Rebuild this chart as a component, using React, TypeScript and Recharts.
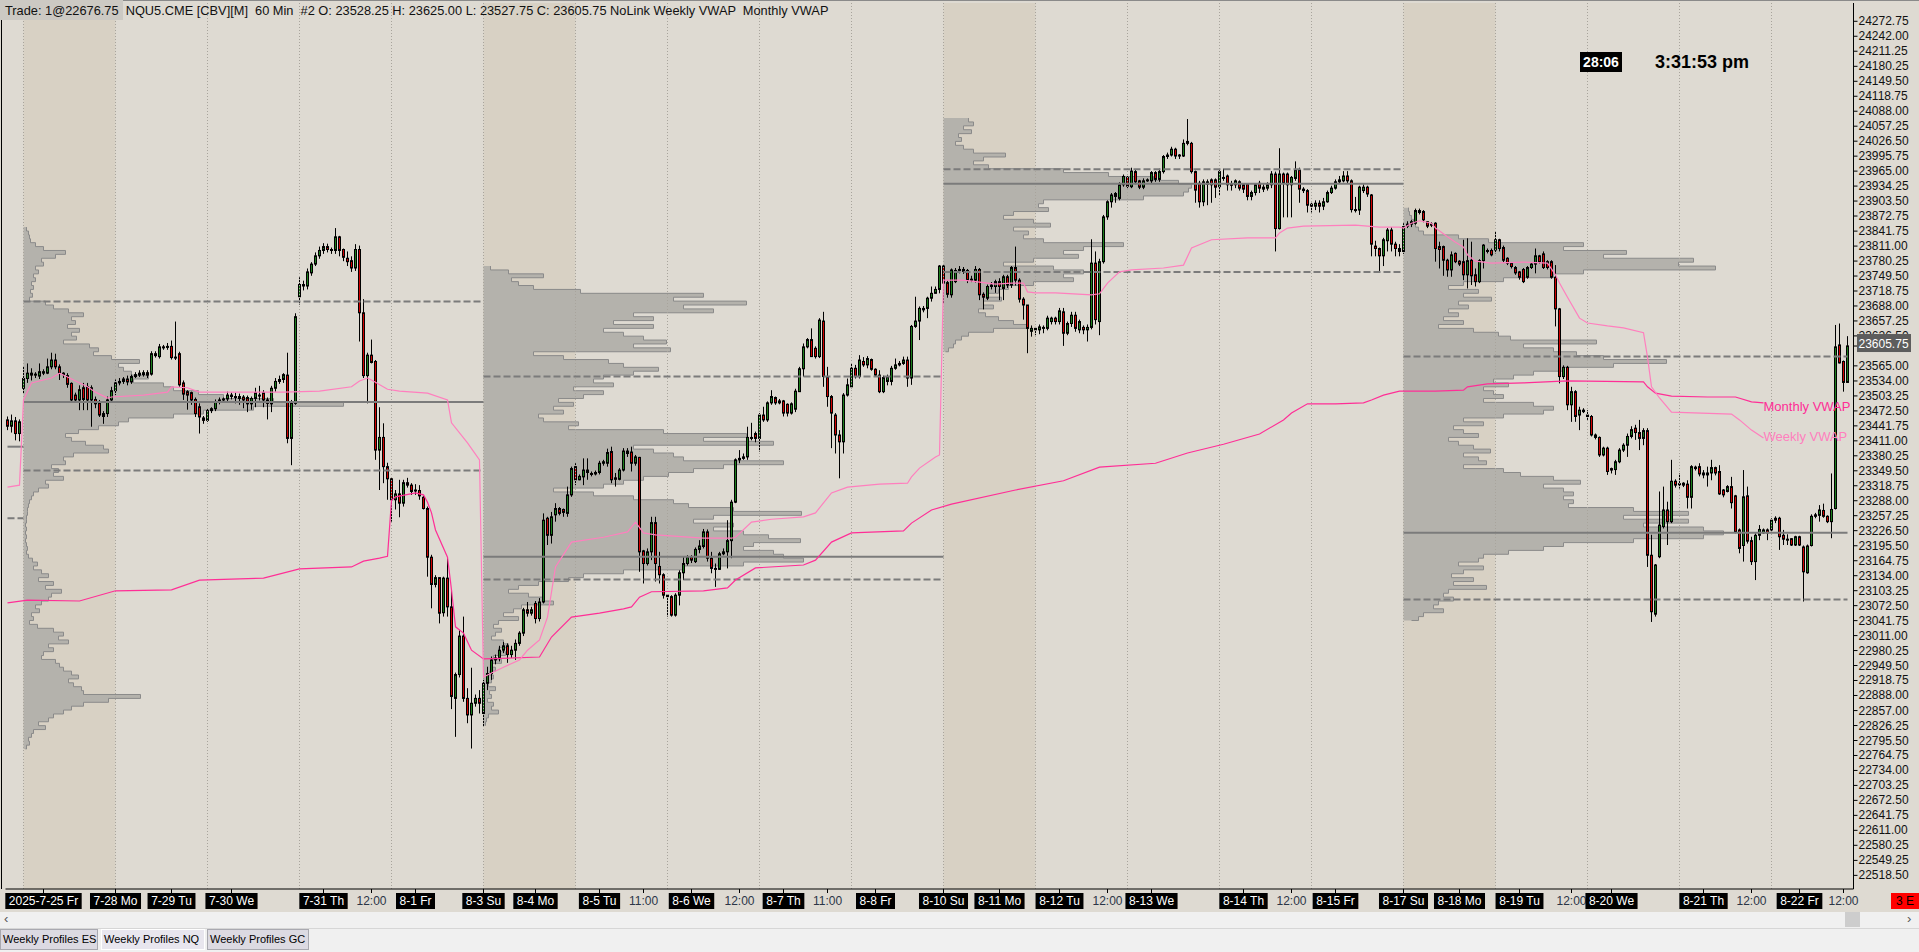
import React from "react";
import {
  ComposedChart,
  Bar,
  Line,
  Area,
  XAxis,
  YAxis,
  ReferenceLine,
  ReferenceArea,
} from "recharts";

// NQU5 60 min bars, one row per bar: [open, high, low, close]
const candles: number[][] = [
  [23454, 23461, 23433, 23441], [23441, 23465, 23428, 23452], [23452, 23460, 23412, 23426], [23426, 23455, 23410, 23450],
  // week of 7-28
  [23519, 23563, 23509, 23539], [23539, 23570, 23530, 23550], [23550, 23560, 23535, 23546], [23546, 23552, 23540, 23548],
  [23544, 23570, 23538, 23553], [23550, 23558, 23546, 23553], [23550, 23580, 23548, 23563], [23563, 23592, 23558, 23577],
  [23577, 23590, 23558, 23563], [23563, 23568, 23536, 23550], [23550, 23552, 23540, 23547], [23545, 23550, 23520, 23527],
  [23529, 23531, 23490, 23495], [23505, 23510, 23492, 23495], [23495, 23525, 23474, 23516], [23520, 23530, 23474, 23496],
  [23522, 23530, 23474, 23495], [23495, 23525, 23440, 23520], [23496, 23502, 23478, 23487], [23488, 23495, 23460, 23464],
  [23461, 23472, 23446, 23467], [23467, 23502, 23460, 23495], [23495, 23522, 23490, 23514], [23514, 23537, 23505, 23530],
  [23530, 23540, 23525, 23533], [23533, 23542, 23528, 23538], [23538, 23545, 23525, 23532], [23532, 23547, 23528, 23543],
  [23543, 23552, 23540, 23547], [23546, 23556, 23542, 23550], [23547, 23556, 23543, 23551], [23551, 23556, 23540, 23546],
  [23548, 23595, 23545, 23590], [23590, 23595, 23582, 23586], [23584, 23610, 23580, 23604], [23604, 23608, 23598, 23603],
  [23603, 23612, 23598, 23605], [23605, 23617, 23578, 23582], [23583, 23656, 23577, 23582], [23590, 23594, 23522, 23526],
  [23530, 23535, 23495, 23507], [23512, 23515, 23475, 23505], [23510, 23512, 23485, 23495], [23496, 23500, 23460, 23467],
  [23481, 23488, 23426, 23460], [23458, 23462, 23446, 23453], [23453, 23478, 23450, 23473], [23473, 23480, 23468, 23477],
  [23477, 23496, 23472, 23491], [23491, 23500, 23486, 23495], [23495, 23500, 23490, 23497], [23497, 23512, 23492, 23505],
  [23505, 23510, 23496, 23502], [23502, 23510, 23488, 23500], [23502, 23508, 23485, 23498], [23501, 23505, 23478, 23495],
  [23500, 23504, 23470, 23487], [23487, 23502, 23475, 23498], [23498, 23520, 23480, 23510], [23505, 23524, 23494, 23504],
  [23510, 23515, 23480, 23495], [23495, 23500, 23455, 23488], [23487, 23524, 23470, 23519], [23519, 23540, 23512, 23533],
  [23533, 23545, 23528, 23537], [23537, 23550, 23530, 23547], [23546, 23592, 23406, 23416], [23416, 23495, 23361, 23488],
  [23488, 23673, 23485, 23666], [23707, 23747, 23691, 23732], [23732, 23740, 23720, 23729], [23729, 23765, 23722, 23758],
  [23756, 23778, 23750, 23774], [23774, 23798, 23770, 23791], [23791, 23810, 23785, 23802], [23802, 23817, 23795, 23810],
  [23810, 23816, 23798, 23804], [23804, 23808, 23795, 23802], [23802, 23848, 23795, 23830], [23830, 23832, 23790, 23802],
  [23804, 23806, 23780, 23788], [23786, 23800, 23770, 23779], [23781, 23790, 23758, 23766], [23766, 23815, 23760, 23804],
  [23804, 23812, 23615, 23674], [23674, 23702, 23540, 23545], [23545, 23592, 23488, 23587], [23587, 23619, 23570, 23572],
  [23574, 23577, 23372, 23392], [23392, 23480, 23310, 23418], [23418, 23447, 23324, 23358], [23358, 23366, 23290, 23333],
  [23333, 23335, 23245, 23290], [23290, 23310, 23270, 23302], [23302, 23331, 23254, 23283], [23283, 23331, 23276, 23325],
  [23325, 23335, 23315, 23320], [23320, 23324, 23300, 23307], [23310, 23322, 23300, 23309], [23309, 23320, 23290, 23298],
  [23295, 23298, 23270, 23272], [23272, 23276, 23132, 23172], [23172, 23177, 23067, 23116], [23116, 23135, 23110, 23130],
  [23130, 23130, 23036, 23057], [23058, 23132, 23050, 23129], [23129, 23170, 23050, 23070], [23070, 23105, 22860, 22886],
  [22882, 22935, 22803, 22931], [22931, 23022, 22925, 23010], [23010, 23050, 22875, 22882], [22882, 22903, 22831, 22848],
  [22848, 22945, 22779, 22872], [22872, 22890, 22865, 22882], [22882, 22899, 22851, 22872],
  // week of 8-4
  [22851, 22920, 22824, 22913], [22913, 22947, 22899, 22933], [22933, 22968, 22920, 22961], [22961, 22972, 22952, 22965],
  [22965, 22990, 22958, 22981], [22981, 22998, 22975, 22990], [22990, 22995, 22955, 22972], [22972, 22990, 22965, 22981],
  [22981, 23003, 22961, 22995], [22995, 23020, 22990, 23016], [23016, 23068, 23010, 23064], [23064, 23080, 23050, 23057],
  [23057, 23070, 23052, 23064], [23077, 23082, 23036, 23046], [23046, 23088, 23040, 23080], [23080, 23262, 23077, 23248],
  [23252, 23255, 23197, 23217], [23217, 23265, 23200, 23255], [23259, 23283, 23245, 23272], [23272, 23275, 23258, 23262],
  [23270, 23272, 23255, 23264], [23262, 23317, 23255, 23300], [23300, 23358, 23296, 23354], [23358, 23365, 23320, 23331],
  [23331, 23342, 23330, 23338], [23337, 23375, 23320, 23351], [23351, 23375, 23331, 23346], [23344, 23348, 23338, 23343],
  [23343, 23350, 23340, 23346], [23346, 23370, 23342, 23365], [23365, 23372, 23360, 23368], [23365, 23395, 23358, 23387],
  [23389, 23399, 23324, 23331], [23335, 23345, 23317, 23332], [23332, 23355, 23330, 23351], [23351, 23396, 23348, 23390],
  [23390, 23396, 23378, 23385], [23388, 23399, 23348, 23365], [23365, 23382, 23360, 23378], [23377, 23378, 23142, 23183],
  [23185, 23187, 23118, 23159], [23159, 23190, 23155, 23183], [23183, 23255, 23166, 23243], [23243, 23255, 23122, 23159],
  [23153, 23183, 23118, 23136], [23136, 23139, 23087, 23094], [23094, 23096, 23050, 23091], [23091, 23094, 23050, 23053],
  [23053, 23098, 23050, 23094], [23094, 23145, 23073, 23140], [23140, 23173, 23125, 23159], [23159, 23176, 23155, 23172],
  [23172, 23176, 23160, 23166], [23163, 23192, 23160, 23188], [23188, 23207, 23180, 23195], [23194, 23230, 23190, 23224],
  [23224, 23229, 23163, 23170], [23170, 23183, 23139, 23149], [23149, 23159, 23111, 23147], [23147, 23183, 23146, 23179],
  [23179, 23190, 23176, 23183], [23183, 23248, 23149, 23206], [23206, 23290, 23170, 23285], [23285, 23375, 23283, 23372],
  [23372, 23392, 23365, 23375], [23375, 23385, 23372, 23378], [23378, 23440, 23372, 23418], [23418, 23448, 23412, 23416],
  [23426, 23430, 23408, 23416], [23416, 23468, 23389, 23464], [23464, 23481, 23450, 23454], [23454, 23492, 23450, 23489],
  [23489, 23515, 23485, 23502], [23500, 23502, 23485, 23489], [23489, 23497, 23486, 23493], [23493, 23495, 23461, 23468],
  [23486, 23488, 23461, 23468], [23468, 23490, 23465, 23487], [23476, 23518, 23470, 23513], [23512, 23563, 23512, 23559],
  [23559, 23611, 23543, 23604], [23604, 23622, 23601, 23619], [23619, 23642, 23584, 23584], [23601, 23605, 23580, 23584],
  [23584, 23663, 23581, 23659], [23657, 23676, 23522, 23543], [23543, 23563, 23481, 23502], [23502, 23505, 23396, 23468],
  [23464, 23468, 23385, 23423], [23423, 23433, 23334, 23409], [23409, 23509, 23385, 23505], [23505, 23539, 23502, 23526],
  [23522, 23570, 23519, 23560], [23560, 23567, 23539, 23543], [23543, 23587, 23539, 23577], [23574, 23583, 23563, 23567],
  [23567, 23585, 23560, 23580], [23578, 23580, 23555, 23558], [23558, 23560, 23543, 23546], [23546, 23556, 23509, 23512],
  [23512, 23545, 23509, 23541], [23533, 23547, 23525, 23543], [23533, 23565, 23525, 23560], [23560, 23580, 23557, 23567],
  [23567, 23575, 23564, 23570], [23570, 23584, 23567, 23577], [23577, 23584, 23522, 23540], [23540, 23649, 23526, 23646],
  [23646, 23707, 23643, 23657], [23657, 23687, 23618, 23683], [23680, 23688, 23675, 23683], [23683, 23707, 23663, 23704],
  [23704, 23728, 23697, 23714], [23714, 23728, 23714, 23722], [23722, 23772, 23714, 23770],
  // week of 8-11
  [23770, 23772, 23693, 23735], [23736, 23740, 23705, 23712], [23711, 23765, 23705, 23762], [23738, 23766, 23735, 23761],
  [23761, 23770, 23755, 23763], [23763, 23768, 23754, 23759], [23761, 23764, 23735, 23741], [23743, 23750, 23737, 23741],
  [23741, 23770, 23736, 23763], [23763, 23766, 23700, 23711], [23712, 23716, 23681, 23706], [23704, 23732, 23700, 23728],
  [23728, 23737, 23722, 23731], [23728, 23742, 23715, 23738], [23738, 23745, 23700, 23728], [23724, 23752, 23700, 23748],
  [23748, 23752, 23725, 23731], [23731, 23770, 23725, 23767], [23767, 23810, 23730, 23741], [23741, 23745, 23695, 23702],
  [23702, 23706, 23660, 23690], [23690, 23690, 23591, 23642], [23636, 23648, 23625, 23642], [23642, 23645, 23628, 23639],
  [23639, 23650, 23630, 23645], [23642, 23648, 23632, 23644], [23642, 23668, 23638, 23663], [23656, 23666, 23650, 23663],
  [23663, 23666, 23650, 23656], [23656, 23684, 23650, 23678], [23676, 23684, 23606, 23632], [23632, 23656, 23628, 23652],
  [23652, 23676, 23645, 23669], [23669, 23676, 23635, 23642], [23639, 23660, 23632, 23656], [23644, 23648, 23630, 23639],
  [23639, 23650, 23615, 23644], [23644, 23825, 23640, 23776], [23776, 23800, 23650, 23660], [23656, 23785, 23628, 23779],
  [23779, 23875, 23775, 23871], [23871, 23905, 23865, 23902], [23902, 23920, 23890, 23916], [23919, 23922, 23900, 23913],
  [23909, 23942, 23905, 23937], [23937, 23958, 23933, 23954], [23952, 23955, 23930, 23934], [23933, 23972, 23930, 23965],
  [23964, 23968, 23938, 23943], [23945, 23947, 23928, 23932], [23932, 23950, 23928, 23945], [23945, 23950, 23943, 23947],
  [23945, 23965, 23940, 23962], [23962, 23965, 23943, 23948], [23948, 23970, 23943, 23964], [23964, 23998, 23960, 23995],
  [23995, 24003, 23990, 23998], [23998, 24015, 23995, 24010], [24010, 24013, 23990, 23996], [23998, 24000, 23990, 23996],
  [23996, 24030, 23994, 24022], [24026, 24072, 24018, 24022], [24022, 24025, 23960, 23964], [23964, 23966, 23900, 23926],
  [23940, 23945, 23890, 23902], [23902, 23948, 23893, 23943], [23938, 23948, 23895, 23943], [23947, 23950, 23900, 23937],
  [23947, 23950, 23910, 23932], [23933, 23968, 23915, 23964], [23950, 23970, 23945, 23952], [23955, 23958, 23925, 23937],
  [23938, 23945, 23925, 23937], [23937, 23948, 23930, 23945], [23943, 23946, 23925, 23930], [23937, 23940, 23920, 23928],
  [23938, 23940, 23905, 23913], [23913, 23925, 23905, 23921], [23921, 23940, 23915, 23937], [23940, 23945, 23920, 23930],
  [23928, 23938, 23922, 23932], [23930, 23942, 23925, 23937], [23937, 23965, 23930, 23959], [23959, 23964, 23800, 23847],
  [23847, 24012, 23845, 23959], [23959, 23962, 23870, 23940], [23959, 23962, 23870, 23937], [23937, 23955, 23870, 23952],
  [23950, 23985, 23945, 23967], [23967, 23972, 23900, 23928], [23928, 23932, 23920, 23925], [23925, 23928, 23880, 23895],
  [23897, 23900, 23880, 23893], [23893, 23905, 23885, 23899], [23899, 23905, 23880, 23893], [23893, 23910, 23885, 23902],
  [23902, 23925, 23900, 23921], [23921, 23935, 23918, 23930], [23930, 23948, 23927, 23943], [23943, 23955, 23940, 23947],
  [23945, 23965, 23942, 23955], [23955, 23965, 23940, 23945], [23945, 23948, 23880, 23886], [23886, 23912, 23880, 23885],
  [23885, 23935, 23875, 23932], [23925, 23938, 23920, 23932], [23932, 23935, 23912, 23918], [23916, 23918, 23790, 23815],
  [23811, 23822, 23790, 23806], [23806, 23808, 23760, 23791], [23791, 23828, 23770, 23824], [23822, 23848, 23800, 23844],
  [23844, 23850, 23800, 23815], [23815, 23820, 23790, 23806], [23806, 23815, 23790, 23800],
  // week of 8-18
  [23800, 23858, 23795, 23851], [23852, 23862, 23848, 23856], [23856, 23865, 23850, 23861], [23858, 23888, 23855, 23884],
  [23880, 23888, 23876, 23884], [23882, 23885, 23860, 23865], [23861, 23862, 23848, 23852], [23856, 23860, 23850, 23854],
  [23858, 23860, 23779, 23806], [23810, 23820, 23765, 23804], [23810, 23812, 23750, 23782], [23782, 23785, 23748, 23762],
  [23762, 23800, 23748, 23793], [23796, 23798, 23776, 23779], [23780, 23782, 23770, 23774], [23779, 23824, 23741, 23752],
  [23752, 23827, 23724, 23781], [23782, 23820, 23731, 23750], [23752, 23765, 23728, 23738], [23738, 23784, 23735, 23781],
  [23781, 23815, 23765, 23813], [23800, 23806, 23796, 23802], [23802, 23806, 23790, 23793], [23803, 23841, 23796, 23824],
  [23824, 23826, 23800, 23806], [23808, 23812, 23778, 23782], [23786, 23788, 23772, 23776], [23776, 23778, 23765, 23769],
  [23767, 23770, 23752, 23756], [23758, 23760, 23742, 23747], [23763, 23766, 23735, 23738], [23747, 23770, 23744, 23767],
  [23767, 23776, 23764, 23774], [23774, 23806, 23755, 23791], [23791, 23793, 23775, 23779], [23795, 23800, 23764, 23767],
  [23779, 23782, 23763, 23767], [23779, 23782, 23744, 23747], [23747, 23772, 23646, 23682], [23682, 23684, 23529, 23543],
  [23543, 23566, 23538, 23562], [23562, 23565, 23474, 23485], [23485, 23522, 23450, 23512], [23512, 23515, 23450, 23461],
  [23464, 23481, 23433, 23474], [23471, 23478, 23468, 23474], [23464, 23474, 23454, 23461], [23461, 23464, 23420, 23423],
  [23423, 23426, 23414, 23418], [23418, 23420, 23378, 23382], [23382, 23399, 23379, 23396], [23396, 23399, 23341, 23348],
  [23354, 23356, 23344, 23351], [23352, 23372, 23341, 23368], [23368, 23396, 23365, 23392], [23392, 23406, 23388, 23402],
  [23402, 23426, 23378, 23420], [23420, 23441, 23416, 23434], [23437, 23444, 23413, 23428], [23428, 23454, 23392, 23416],
  [23416, 23437, 23402, 23432], [23432, 23437, 23152, 23176], [23176, 23218, 23039, 23060], [23055, 23158, 23050, 23156],
  [23173, 23307, 23170, 23238], [23235, 23317, 23231, 23269], [23269, 23286, 23197, 23245], [23245, 23372, 23242, 23328],
  [23328, 23332, 23315, 23320], [23323, 23344, 23313, 23321], [23324, 23326, 23316, 23320], [23322, 23330, 23272, 23295],
  [23295, 23361, 23272, 23358], [23354, 23360, 23350, 23357], [23358, 23365, 23338, 23343], [23345, 23351, 23334, 23341],
  [23341, 23358, 23317, 23345], [23345, 23372, 23330, 23356], [23356, 23358, 23340, 23345], [23348, 23361, 23300, 23302],
  [23310, 23312, 23295, 23300], [23307, 23320, 23305, 23317], [23317, 23337, 23272, 23284], [23298, 23300, 23221, 23224],
  [23228, 23231, 23180, 23190], [23196, 23351, 23163, 23296], [23298, 23317, 23200, 23205], [23206, 23214, 23156, 23163],
  [23163, 23221, 23125, 23217], [23217, 23238, 23207, 23229], [23222, 23231, 23220, 23228], [23228, 23231, 23207, 23222],
  [23228, 23252, 23225, 23248], [23252, 23256, 23242, 23248], [23252, 23255, 23187, 23214], [23217, 23228, 23197, 23209],
  [23209, 23219, 23197, 23209], [23210, 23211, 23195, 23197], [23197, 23216, 23195, 23214], [23214, 23216, 23195, 23197],
  [23193, 23196, 23081, 23142], [23140, 23198, 23138, 23195], [23196, 23260, 23194, 23256], [23256, 23263, 23252, 23259],
  [23258, 23279, 23245, 23269], [23268, 23282, 23253, 23256], [23256, 23258, 23242, 23245], [23245, 23344, 23211, 23270],
  [23272, 23649, 23270, 23604], [23608, 23652, 23570, 23571], [23574, 23576, 23512, 23531], [23531, 23626, 23531, 23606],
];

// VWAP waypoints: [bar, price]
const weeklyVwap: number[][] = [
  [0, 23316], [3, 23320], [4, 23495], [6, 23530], [11, 23540], [13, 23550], [15, 23542], [20, 23522], [22, 23511],
  [25, 23499], [26, 23501], [34, 23505], [40, 23511], [41, 23522], [45, 23520], [48, 23511], [56, 23511], [69, 23511],
  [78, 23513], [86, 23522], [88, 23534], [90, 23540], [91, 23536], [95, 23517], [98, 23513], [105, 23509], [110, 23495],
  [111, 23448], [115, 23407], [118, 23372],
  [119, 22926], [121, 22934], [124, 22946], [128, 22961], [130, 22981], [133, 23002], [135, 23049], [137, 23152],
  [141, 23203], [149, 23213], [155, 23224], [156, 23234], [157, 23244], [159, 23222], [162, 23218], [174, 23211],
  [181, 23211], [182, 23213], [186, 23244], [191, 23250], [199, 23255], [202, 23263], [206, 23304], [210, 23316],
  [218, 23322], [225, 23324], [226, 23337], [228, 23355], [232, 23378], [233, 23382],
  [234, 23741], [239, 23741], [243, 23737], [247, 23733], [251, 23735], [254, 23735], [255, 23717], [257, 23715],
  [262, 23715], [271, 23711], [273, 23713], [275, 23735], [278, 23758], [281, 23762], [289, 23766], [294, 23772],
  [296, 23807], [301, 23824], [310, 23828], [317, 23828], [318, 23838], [320, 23848], [324, 23852], [337, 23854],
  [343, 23850], [348, 23850],
  [349, 23848], [351, 23858], [353, 23863], [356, 23858], [357, 23848], [360, 23830], [362, 23819], [364, 23809],
  [365, 23793], [367, 23780], [371, 23776], [379, 23778], [385, 23776], [387, 23752], [388, 23735], [390, 23706],
  [393, 23663], [395, 23653], [400, 23647], [404, 23643], [409, 23633], [410, 23583], [411, 23522], [413, 23499],
  [416, 23470], [431, 23466], [433, 23454], [436, 23433], [439, 23417],
];

const monthlyVwap: number[][] = [
  [0, 23078], [5, 23084], [18, 23082], [27, 23103], [41, 23105], [48, 23125], [56, 23127], [64, 23129], [73, 23148],
  [86, 23152], [89, 23164], [93, 23170], [95, 23174],
  [96, 23289], [97, 23296], [102, 23304], [104, 23300], [105, 23285], [106, 23263], [107, 23228], [110, 23172],
  [111, 23105], [112, 23029], [114, 23016], [116, 22981], [119, 22963], [133, 22967], [136, 23008], [141, 23049],
  [148, 23057], [154, 23066], [156, 23070], [158, 23090], [161, 23101], [174, 23103], [180, 23109], [182, 23125],
  [187, 23150], [199, 23156], [202, 23166], [206, 23203], [211, 23222], [224, 23226], [226, 23242], [231, 23269],
  [236, 23281], [252, 23310], [264, 23329], [273, 23357], [287, 23365], [295, 23386], [304, 23404], [313, 23425],
  [319, 23454], [321, 23468], [325, 23487], [332, 23487], [339, 23489], [341, 23495], [344, 23505], [348, 23513],
  [357, 23513], [364, 23515], [365, 23522], [370, 23528], [379, 23530], [390, 23534], [409, 23532], [410, 23522],
  [412, 23509], [416, 23503], [425, 23501], [432, 23501], [436, 23491], [439, 23489],
];

// weekly volume profiles: value area / point of control per week
const weekStarts = [4, 119, 234, 349];
const weekEnds = [119, 234, 349, 460];
const valueAreaHigh = [23697, 23543, 23969, 23584];
const pointOfControl = [23491, 23173, 23939, 23222];
const valueAreaLow = [23350, 23126, 23758, 23085];
const prevWeekPoc = 23399;
const prevWeekVal = 23252;

// profile rows from top price downward, 8 points per row, relative volume
const profileTops = [23850, 23770, 24074, 23890];
const PROFILE_STEP = 8;
const profileWeek1 = [
  3, 5, 6, 7, 12, 20, 42, 32, 18, 20, 12, 15, 10, 12, 8, 10, 7, 9, 6, 22, 30, 45, 60, 48, 52, 44, 56, 48, 53, 40,
  66, 75, 70, 88, 116, 95, 100, 108, 125, 110, 140, 150, 175, 200, 250, 320, 230, 180, 150, 105, 95, 75, 55, 42, 48,
  62, 80, 85, 50, 40, 42, 28, 35, 30, 40, 22, 25, 15, 10, 8, 6, 5, 4, 4, 3, 3, 2, 3, 2, 3, 2, 3, 4, 3, 5, 9, 14, 10,
  18, 25, 15, 30, 22, 38, 28, 25, 18, 12, 16, 8, 10, 6, 14, 30, 40, 35, 45, 25, 30, 20, 18, 32, 36, 40, 48, 55, 45,
  50, 58, 60, 117, 85, 60, 48, 40, 30, 25, 15, 22, 10, 8, 5, 6, 3, 2,
];
const profileWeek2 = [
  7, 25, 60, 28, 35, 50, 97, 220, 190, 263, 200, 230, 150, 170, 130, 170, 120, 140, 160, 183, 150, 187, 50, 80, 125,
  140, 175, 150, 120, 110, 130, 90, 120, 100, 75, 90, 70, 80, 55, 60, 95, 85, 180, 263, 220, 290, 150, 170, 190, 200,
  300, 240, 210, 185, 160, 140, 120, 70, 110, 150, 190, 205, 250, 318, 230, 210, 250, 230, 260, 285, 317, 270, 260,
  290, 300, 320, 260, 200, 140, 100, 85, 55, 35, 25, 45, 60, 70, 38, 30, 20, 35, 15, 10, 18, 12, 8, 20, 25, 15, 22,
  10, 18, 8, 12, 6, 10, 8, 5, 12, 6, 8, 4, 10, 8, 15, 5, 3, 2, 2,
];
const profileWeek3 = [
  25, 30, 20, 28, 15, 18, 12, 20, 30, 62, 40, 30, 45, 120, 165, 210, 235, 248, 245, 240, 200, 100, 95, 105, 70, 60,
  90, 107, 70, 85, 80, 100, 180, 140, 120, 135, 90, 60, 110, 140, 120, 130, 90, 65, 55, 45, 58, 40, 50, 35, 42, 55,
  70, 85, 50, 25, 18, 12, 10, 5, 2,
];
const profileWeek4 = [
  5, 6, 8, 10, 12, 15, 20, 55, 85, 180, 160, 223, 200, 290, 275, 312, 180, 150, 100, 60, 45, 75, 60, 88, 55, 65, 45,
  55, 40, 60, 35, 70, 95, 107, 193, 120, 150, 173, 200, 263, 210, 160, 130, 110, 90, 105, 80, 90, 100, 80, 130, 150,
  140, 100, 60, 80, 50, 60, 75, 45, 55, 70, 87, 60, 75, 83, 60, 100, 117, 150, 177, 140, 160, 170, 160, 170, 165,
  230, 285, 220, 285, 240, 300, 320, 300, 230, 160, 140, 105, 80, 75, 55, 80, 60, 48, 70, 50, 83, 45, 40, 50, 35, 30,
  40, 20, 15, 8,
];
const profileVolumes = [profileWeek1, profileWeek2, profileWeek3, profileWeek4];

const gridBars = [4, 27, 50, 73, 96, 119, 142, 165, 188, 211, 234, 257, 280, 303, 326, 349, 372, 395, 418, 441];

const timeTickBars = [
  9, 27, 41, 56, 79, 91, 102, 119, 132, 148, 159, 171, 183, 194, 205, 217, 234, 248, 263, 275, 286, 309, 321, 332,
  349, 363, 378, 391, 401, 424, 436, 448, 459,
];
const timeTickLabels = [
  "2025-7-25 Fr", "7-28 Mo", "7-29 Tu", "7-30 We", "7-31 Th", "12:00", "8-1 Fr", "8-3 Su", "8-4 Mo", "8-5 Tu",
  "11:00", "8-6 We", "12:00", "8-7 Th", "11:00", "8-8 Fr", "8-10 Su", "8-11 Mo", "8-12 Tu", "12:00", "8-13 We",
  "8-14 Th", "12:00", "8-15 Fr", "8-17 Su", "8-18 Mo", "8-19 Tu", "12:00", "8-20 We", "8-21 Th", "12:00", "8-22 Fr",
  "12:00",
];

const priceTicks = [
  24272.75, 24242.0, 24211.25, 24180.25, 24149.5, 24118.75, 24088.0, 24057.25, 24026.5, 23995.75, 23965.0, 23934.25,
  23903.5, 23872.75, 23841.75, 23811.0, 23780.25, 23749.5, 23718.75, 23688.0, 23657.25, 23626.5, 23565.0, 23534.0,
  23503.25, 23472.5, 23441.75, 23411.0, 23380.25, 23349.5, 23318.75, 23288.0, 23257.25, 23226.5, 23195.5, 23164.75,
  23134.0, 23103.25, 23072.5, 23041.75, 23011.0, 22980.25, 22949.5, 22918.75, 22888.0, 22857.0, 22826.25, 22795.5,
  22764.75, 22734.0, 22703.25, 22672.5, 22641.75, 22611.0, 22580.25, 22549.25, 22518.5,
];
const lastPrice = 23605.75;

const tabLabels = ["Weekly Profiles ES", "Weekly Profiles NQ", "Weekly Profiles GC"];

// layout
const CHART_W = 1919;
const CHART_H = 912;
const AXIS_W = 65.5;
const X_AXIS_H = 23;
const MARGIN = { top: 3, right: 0, bottom: 0, left: 5.5 };
const PRICE_DOMAIN: [number, number] = [22490.5, 24310.3];
const BAR_DOMAIN: [number, number] = [-0.5, 461.5];
const PROFILE_TO_BARS = 0.25;
const LABEL_BAR = 439;

const FONT = "'Liberation Sans', Arial, sans-serif";
const BG = "#dedad2";
const SHADE = "#d8d1c4";
const UP = "#1b7d1b";
const DOWN = "#d10000";
const WEEKLY_COLOR = "#ff7fbe";
const MONTHLY_COLOR = "#ff2e96";

const wMap = new Map(weeklyVwap.map(([b, p]) => [b, p]));
const mMap = new Map(monthlyVwap.map(([b, p]) => [b, p]));

const rows = candles.map(([o, h, l, c], i) => ({
  i,
  o,
  h,
  l,
  c,
  range: [l, h],
  wv: wMap.has(i) ? wMap.get(i) : null,
  mv: mMap.has(i) ? mMap.get(i) : null,
}));

function buildProfileRows() {
  const byPrice = new Map<number, any>();
  profileVolumes.forEach((vols, k) => {
    vols.forEach((v, r) => {
      const p = profileTops[k] - r * PROFILE_STEP;
      const row = byPrice.get(p) ?? { p };
      row[`v${k}`] = weekStarts[k] + v * PROFILE_TO_BARS;
      byPrice.set(p, row);
    });
  });
  return Array.from(byPrice.values()).sort((a, b) => a.p - b.p);
}
const profileRows = buildProfileRows();

let measureCtx: CanvasRenderingContext2D | null = null;
function textWidth(s: string) {
  if (!measureCtx && typeof document !== "undefined") {
    measureCtx = document.createElement("canvas").getContext("2d");
  }
  if (!measureCtx) return s.length * 6.4;
  measureCtx.font = `12px ${FONT}`;
  return measureCtx.measureText(s).width;
}

function Candle(props: any) {
  const { x, y, width, height, payload } = props;
  if (!payload) return null;
  const { o, h, l, c } = payload;
  const top = Math.min(y, y + height);
  const bot = Math.max(y, y + height);
  const span = h - l || 1;
  const py = (p: number) => top + ((h - p) / span) * (bot - top);
  const cx = Math.round(x + width / 2 - 0.5) + 0.5;
  const bTop = py(Math.max(o, c));
  const bBot = py(Math.min(o, c));
  return (
    <g>
      <line x1={cx} x2={cx} y1={top} y2={bot} stroke="#000" strokeWidth={1} />
      <rect
        x={cx - 1}
        y={bTop}
        width={2}
        height={Math.max(bBot - bTop, 1)}
        fill={c >= o ? UP : DOWN}
        stroke="#000"
        strokeWidth={1}
      />
    </g>
  );
}

function PriceTick(props: any) {
  const { x, y, payload } = props;
  const v = payload.value as number;
  if (v === lastPrice) {
    return (
      <g>
        <rect x={x - 1.5} y={y - 12} width={54} height={18} fill="#5d5d5d" />
        <text x={x} y={y + 1.5} fill="#ffffff" fontSize={12} fontFamily={FONT}>
          {v.toFixed(2)}
        </text>
      </g>
    );
  }
  return (
    <text x={x} y={y + 4} fill="#111" fontSize={12} fontFamily={FONT}>
      {v.toFixed(2)}
    </text>
  );
}

function TimeTick(props: any) {
  const { x, y, payload } = props;
  const k = timeTickBars.indexOf(payload.value);
  const label = timeTickLabels[k] ?? "";
  const isDay = label.includes("-");
  const w = textWidth(label) + 7;
  const left = Math.max(x - w / 2, 4);
  if (!isDay) {
    return (
      <text x={x} y={y + 12} textAnchor="middle" fill="#2b3547" fontSize={12} fontFamily={FONT}>
        {label}
      </text>
    );
  }
  return (
    <g>
      <rect x={left} y={y} width={w} height={16} fill="#000" />
      <text x={left + w / 2} y={y + 12} textAnchor="middle" fill="#fff" fontSize={12} fontFamily={FONT}>
        {label}
      </text>
    </g>
  );
}

const vwapLabel = (text: string, color: string, dy: number) => (props: any) => {
  if (props.index !== LABEL_BAR) return null;
  const px = props.x ?? props.viewBox?.x;
  const py = props.y ?? props.viewBox?.y;
  if (px == null || py == null) return null;
  return (
    <text x={px} y={py + dy} fill={color} fontSize={13} fontFamily={FONT}>
      {text}
    </text>
  );
};

function ProfileLayer() {
  return (
    <ComposedChart
      layout="vertical"
      width={CHART_W}
      height={CHART_H}
      data={profileRows}
      margin={{ top: MARGIN.top, right: AXIS_W, bottom: X_AXIS_H, left: MARGIN.left }}
    >
      <XAxis type="number" domain={BAR_DOMAIN} allowDataOverflow hide />
      <YAxis type="number" dataKey="p" domain={PRICE_DOMAIN} allowDataOverflow reversed hide />
      {weekStarts.map((s) => (
        <ReferenceArea key={`sh${s}`} x1={s} x2={s + 23} fill={SHADE} fillOpacity={1} stroke="none" />
      ))}
      {profileVolumes.map((_, k) => (
        <Area
          key={`pf${k}`}
          dataKey={`v${k}`}
          type="stepAfter"
          baseValue={weekStarts[k]}
          fill="#b4b2ac"
          fillOpacity={1}
          stroke="#8a8a8a"
          strokeWidth={1}
          isAnimationActive={false}
        />
      ))}
    </ComposedChart>
  );
}

function PriceChart() {
  return (
    <ComposedChart
      width={CHART_W}
      height={CHART_H}
      data={rows}
      margin={MARGIN}
      barCategoryGap={0}
      barGap={0}
    >
      <XAxis
        dataKey="i"
        type="category"
        ticks={timeTickBars}
        interval={0}
        tick={<TimeTick />}
        tickSize={4}
        tickMargin={0}
        tickLine={{ stroke: "#000" }}
        axisLine={{ stroke: "#000" }}
        height={X_AXIS_H}
        padding={{ left: 0, right: 4 }}
      />
      <YAxis
        orientation="right"
        type="number"
        domain={PRICE_DOMAIN}
        allowDataOverflow
        ticks={[...priceTicks, lastPrice]}
        interval={0}
        tick={<PriceTick />}
        tickSize={4}
        tickMargin={1}
        tickLine={{ stroke: "#000" }}
        axisLine={{ stroke: "#000" }}
        width={AXIS_W}
      />
      {gridBars.map((b) => (
        <ReferenceLine key={`g${b}`} x={b} stroke="#a8a49c" strokeDasharray="1 2" />
      ))}
      <ReferenceLine segment={[{ x: 0, y: prevWeekPoc }, { x: 4, y: prevWeekPoc }]} stroke="#7b7b7b" strokeWidth={2} />
      <ReferenceLine
        segment={[{ x: 0, y: prevWeekVal }, { x: 4, y: prevWeekVal }]}
        stroke="#7b7b7b"
        strokeWidth={2}
        strokeDasharray="7 3"
      />
      {weekStarts.map((s, k) => (
        <ReferenceLine
          key={`vah${k}`}
          segment={[{ x: s, y: valueAreaHigh[k] }, { x: weekEnds[k], y: valueAreaHigh[k] }]}
          stroke="#7b7b7b"
          strokeWidth={2}
          strokeDasharray="7 3"
        />
      ))}
      {weekStarts.map((s, k) => (
        <ReferenceLine
          key={`poc${k}`}
          segment={[{ x: s, y: pointOfControl[k] }, { x: weekEnds[k], y: pointOfControl[k] }]}
          stroke="#7b7b7b"
          strokeWidth={2}
        />
      ))}
      {weekStarts.map((s, k) => (
        <ReferenceLine
          key={`val${k}`}
          segment={[{ x: s, y: valueAreaLow[k] }, { x: weekEnds[k], y: valueAreaLow[k] }]}
          stroke="#7b7b7b"
          strokeWidth={2}
          strokeDasharray="7 3"
        />
      ))}
      <Line
        dataKey="mv"
        stroke={MONTHLY_COLOR}
        strokeWidth={1.2}
        dot={false}
        connectNulls
        isAnimationActive={false}
        label={vwapLabel("Monthly VWAP", MONTHLY_COLOR, 8)}
      />
      <Line
        dataKey="wv"
        stroke={WEEKLY_COLOR}
        strokeWidth={1.2}
        dot={false}
        connectNulls
        isAnimationActive={false}
        label={vwapLabel("Weekly VWAP", WEEKLY_COLOR, 3)}
      />
      <Bar dataKey="range" shape={(p: any) => <Candle {...p} />} isAnimationActive={false} />
    </ComposedChart>
  );
}

const tabStyle: React.CSSProperties = {
  position: "absolute",
  top: 929,
  height: 21,
  lineHeight: "19px",
  fontSize: 11,
  padding: "0 2px",
  whiteSpace: "nowrap",
  overflow: "visible",
  background: "#dcdae2",
  border: "1px solid #a9a9b0",
  boxSizing: "border-box",
  color: "#000",
};
const tabLefts = [0, 101, 207];
const tabWidths = [98, 104, 102];

export default function App() {
  return (
    <div
      style={{
        position: "relative",
        width: 1919,
        height: 952,
        background: "#f0f0f0",
        overflow: "hidden",
        fontFamily: FONT,
      }}
    >
      <style>{"body{margin:0}"}</style>
      <div style={{ position: "absolute", left: 0, top: 0, width: 1919, height: CHART_H, background: BG }} />
      <div style={{ position: "absolute", left: 0, top: 0 }}>
        <ProfileLayer />
      </div>
      <div style={{ position: "absolute", left: 0, top: 0 }}>
        <PriceChart />
      </div>
      {/* frame */}
      <div style={{ position: "absolute", left: 0, top: 0, width: 1919, height: 1, background: "#8a8a8a" }} />
      <div style={{ position: "absolute", left: 1, top: 0, width: 1, height: 889, background: "#000" }} />
      {/* header */}
      <div style={{ position: "absolute", left: 0, top: 0, width: 123, height: 20, background: "#ccc9c3" }} />
      <div
        style={{
          position: "absolute",
          left: 5,
          top: 3,
          fontSize: 12.8,
          whiteSpace: "pre",
          color: "#111",
          lineHeight: "15px",
        }}
      >
        {"Trade: 1@22676.75  NQU5.CME [CBV][M]  60 Min  #2 O: 23528.25 H: 23625.00 L: 23527.75 C: 23605.75 NoLink Weekly VWAP  Monthly VWAP"}
      </div>
      {/* clock */}
      <div
        style={{
          position: "absolute",
          left: 1580,
          top: 52,
          width: 42,
          height: 20,
          background: "#000",
          color: "#fff",
          fontWeight: 700,
          fontSize: 14,
          lineHeight: "20px",
          textAlign: "center",
        }}
      >
        28:06
      </div>
      <div
        style={{
          position: "absolute",
          left: 1655,
          top: 51,
          fontWeight: 700,
          fontSize: 18,
          lineHeight: "22px",
          color: "#000",
        }}
      >
        3:31:53 pm
      </div>
      {/* bar countdown box */}
      <div
        style={{
          position: "absolute",
          left: 1891,
          top: 893,
          width: 28,
          height: 16,
          background: "#ff0000",
          color: "#000",
          fontSize: 12,
          lineHeight: "16px",
          textAlign: "center",
        }}
      >
        3 E
      </div>
      {/* scrollbar */}
      <div style={{ position: "absolute", left: 0, top: 912, width: 1919, height: 15, background: "#f0f0f0" }} />
      <div style={{ position: "absolute", left: 4, top: 911, fontSize: 13, color: "#555" }}>‹</div>
      <div style={{ position: "absolute", left: 1907, top: 911, fontSize: 13, color: "#555" }}>›</div>
      <div style={{ position: "absolute", left: 1845, top: 912, width: 15, height: 15, background: "#cdcdcd" }} />
      <div style={{ position: "absolute", left: 0, top: 928, width: 1919, height: 1, background: "#d6d6d6" }} />
      {/* sheet tabs */}
      {tabLabels.map((t, k) => (
        <div
          key={t}
          style={{
            ...tabStyle,
            left: tabLefts[k],
            width: tabWidths[k],
            ...(k === 1 ? { background: "#e8e6ee", border: "1px solid #ffffff" } : {}),
          }}
        >
          {t}
        </div>
      ))}
    </div>
  );
}
